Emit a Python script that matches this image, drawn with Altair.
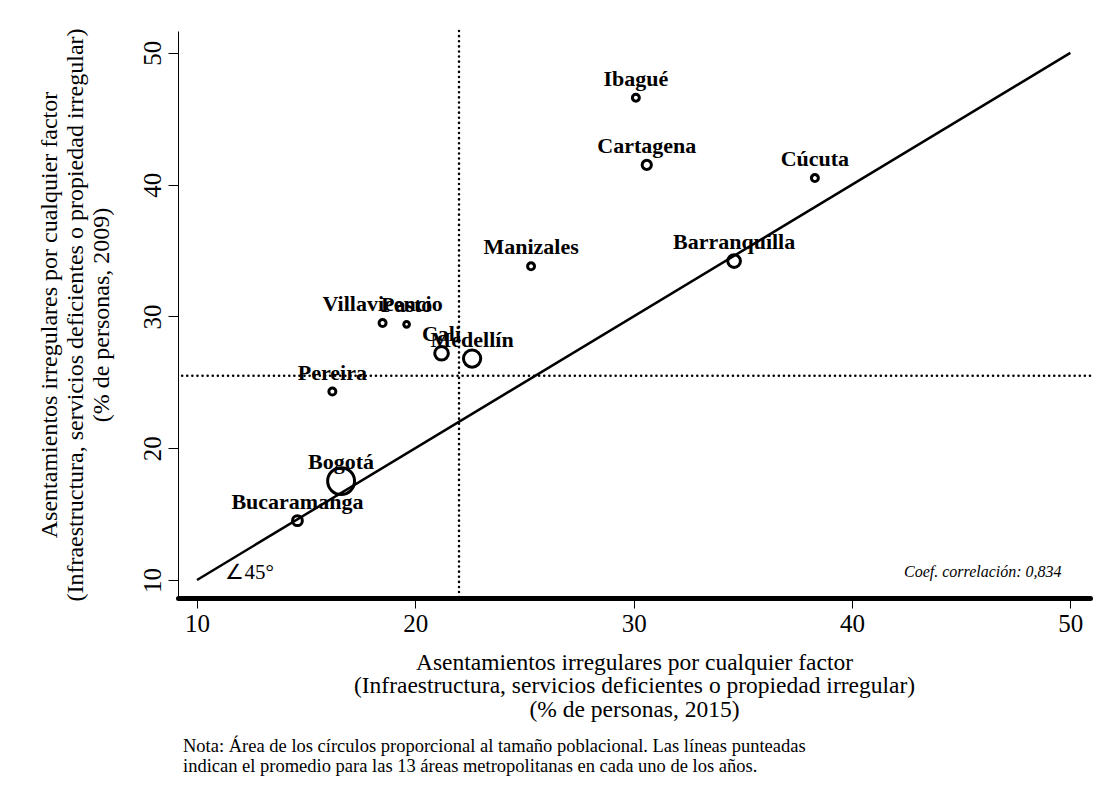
import altair as alt
import pandas as pd

# ---- data ----
ciudades = ["Bogotá", "Medellín", "Cali", "Barranquilla", "Bucaramanga", "Cartagena",
            "Cúcuta", "Pereira", "Manizales", "Ibagué", "Villavicencio", "Pasto"]
x2015 = [16.6, 22.6, 21.2, 34.6, 14.6, 30.6, 38.3, 16.2, 25.3, 30.1, 18.5, 19.6]
y2009 = [17.5, 26.8, 27.2, 34.2, 14.5, 41.5, 40.5, 24.3, 33.8, 46.6, 29.5, 29.4]
poblacion = [9.0, 3.7, 2.3, 2.0, 1.2, 1.05, 0.6, 0.6, 0.6, 0.6, 0.6, 0.4]

prom_x = [22.0]
prom_y = [25.5]
diag = [10, 50]
ticks = [10, 20, 30, 40, 50]

titulo_x = ["Asentamientos irregulares por cualquier factor",
            "(Infraestructura, servicios deficientes o propiedad irregular)",
            "(% de personas, 2015)"]
titulo_y = ["Asentamientos irregulares por cualquier factor",
            "(Infraestructura, servicios deficientes o propiedad irregular)",
            "(% de personas, 2009)"]
nota = ("Nota: Área de los círculos proporcional al tamaño poblacional. Las líneas punteadas\n"
        "indican el promedio para las 13 áreas metropolitanas en cada uno de los años.")
coef = "Coef. correlación: 0,834"
angulo = "∠45°"

W, H = 912, 567
FONT = "Liberation Serif"

df = pd.DataFrame({"ciudad": ciudades, "x": x2015, "y": y2009, "pob": poblacion})

xs = alt.Scale(domain=[9.13, 50.9], nice=False, zero=False)
ys = alt.Scale(domain=[8.63, 51.66], nice=False, zero=False)

xaxis = alt.Axis(values=ticks, title=titulo_x, grid=False, tickSize=10, tickColor="black",
                 domainColor="black", domainWidth=5, domainCap="round",
                 labelFont=FONT, labelFontSize=25, labelColor="black", labelPadding=3,
                 titleFont=FONT, titleFontSize=23.5, titleFontWeight="normal", titleColor="black",
                 titleLineHeight=23.5, titlePadding=14)
yaxis = alt.Axis(values=ticks, title=titulo_y, grid=False, tickSize=10, tickColor="black",
                 domainColor="black", domainWidth=1,
                 labelFont=FONT, labelFontSize=25, labelColor="black", labelAngle=270,
                 labelAlign="center", labelBaseline="bottom", labelPadding=3,
                 titleFont=FONT, titleFontSize=24, titleFontWeight="normal", titleColor="black",
                 titleLineHeight=26, titlePadding=27)

base = alt.Chart(df)

puntos = base.mark_point(shape="circle", filled=False, color="black", strokeWidth=3, opacity=1).encode(
    x=alt.X("x:Q", scale=xs, axis=xaxis),
    y=alt.Y("y:Q", scale=ys, axis=yaxis),
    size=alt.Size("pob:Q", scale=alt.Scale(domain=[0, 9], range=[0, 726], zero=True), legend=None),
)

etiquetas = base.mark_text(font=FONT, fontSize=22, fontWeight="bold", color="black",
                           dy=-12, baseline="alphabetic", align="center").encode(
    x=alt.X("x:Q", scale=xs), y=alt.Y("y:Q", scale=ys), text="ciudad:N")

diag_df = pd.DataFrame({"x": diag, "y": diag})
diagonal = alt.Chart(diag_df).mark_line(color="black", strokeWidth=2.5).encode(
    x=alt.X("x:Q", scale=xs), y=alt.Y("y:Q", scale=ys))

vline = alt.Chart(pd.DataFrame({"x": prom_x})).mark_rule(
    color="black", strokeWidth=2.5, strokeDash=[0.1, 5], strokeCap="round").encode(
    x=alt.X("x:Q", scale=xs))
hline = alt.Chart(pd.DataFrame({"y": prom_y})).mark_rule(
    color="black", strokeWidth=2.5, strokeDash=[0.1, 5], strokeCap="round").encode(
    y=alt.Y("y:Q", scale=ys))

ang = alt.Chart(pd.DataFrame({"t": [angulo], "x": [11.3], "y": [10.1]})).mark_text(
    font=FONT, fontSize=21, color="black", align="left", baseline="alphabetic").encode(
    x=alt.X("x:Q", scale=xs), y=alt.Y("y:Q", scale=ys), text="t:N")

coef_t = alt.Chart(pd.DataFrame({"t": [coef], "x": [49.6], "y": [10.2]})).mark_text(
    font=FONT, fontSize=16, fontStyle="italic", color="black", align="right",
    baseline="alphabetic").encode(
    x=alt.X("x:Q", scale=xs), y=alt.Y("y:Q", scale=ys), text="t:N")

nota_t = alt.Chart(pd.DataFrame({"t": [nota]})).mark_text(
    font=FONT, fontSize=18.5, color="black", align="left", baseline="alphabetic",
    lineBreak="\n", lineHeight=20).encode(
    x=alt.value(5), y=alt.value(H + 154), text="t:N")

chart = alt.layer(vline, hline, diagonal, puntos, etiquetas, ang, coef_t, nota_t).properties(
    width=W, height=H,
    autosize=alt.AutoSizeParams(type="none"),
    padding={"left": 170, "top": 23, "right": 6, "bottom": 202},
    background="white",
).configure_view(stroke=None)

chart.save("out.html", embed_options={"renderer": "svg", "actions": False})
